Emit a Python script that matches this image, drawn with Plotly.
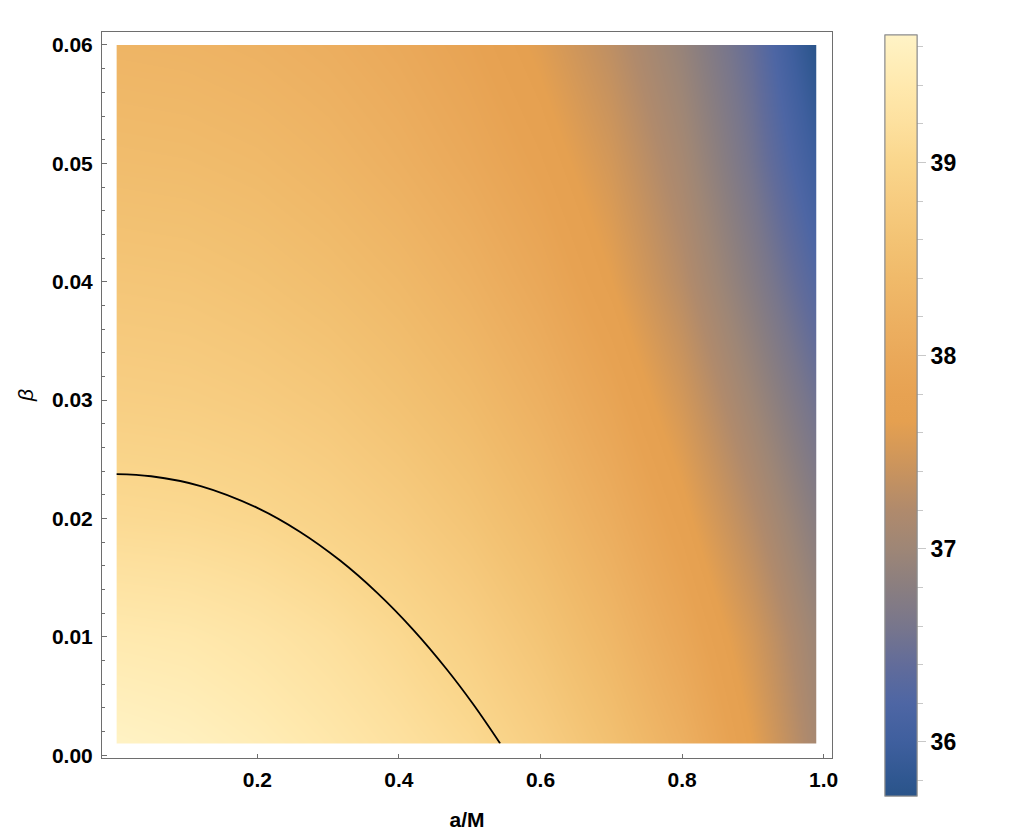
import plotly.graph_objects as go

# ---------------- data ----------------
a_vals = [0.0, 0.1, 0.2, 0.3, 0.4, 0.5, 0.6, 0.7, 0.8, 0.9, 1.0]
beta_vals = [0.0, 0.01, 0.02, 0.03, 0.04, 0.05, 0.06]

T_b000 = [39.67, 39.61, 39.51, 39.38, 39.24, 39.09, 38.86, 38.56, 38.19, 37.67, 37.05]
T_b001 = [39.41, 39.38, 39.30, 39.19, 39.05, 38.87, 38.63, 38.33, 37.95, 37.50, 36.93]
T_b002 = [39.08, 39.06, 39.01, 38.92, 38.80, 38.63, 38.40, 38.10, 37.72, 37.25, 36.72]
T_b003 = [38.85, 38.83, 38.78, 38.70, 38.57, 38.41, 38.18, 37.88, 37.49, 37.00, 36.47]
T_b004 = [38.66, 38.64, 38.58, 38.49, 38.37, 38.20, 37.97, 37.66, 37.26, 36.76, 36.20]
T_b005 = [38.46, 38.44, 38.39, 38.30, 38.17, 38.00, 37.78, 37.49, 37.09, 36.56, 35.92]
T_b006 = [38.28, 38.26, 38.21, 38.13, 38.01, 37.84, 37.61, 37.31, 36.92, 36.42, 35.65]
T_rows = [T_b000, T_b001, T_b002, T_b003, T_b004, T_b005, T_b006]

contour_a = [0.001, 0.05, 0.12, 0.20, 0.26, 0.317, 0.369, 0.42, 0.4675, 0.505, 0.543]
contour_beta = [0.02375, 0.02357, 0.02274, 0.0209, 0.01889, 0.01645, 0.01374, 0.01062, 0.00727, 0.00431, 0.001]

x_tickvals = [0.2, 0.4, 0.6, 0.8, 1.0]
x_ticktext = ["0.2", "0.4", "0.6", "0.8", "1.0"]
cb_major = [36, 37, 38, 39]
cb_minor = [35.8, 36.2, 36.4, 36.6, 36.8, 37.2, 37.4, 37.6, 37.8, 38.2, 38.4, 38.6, 38.8, 39.2, 39.4, 39.6]

c_min, c_max = 35.72, 39.66
stop_vals = [35.72, 35.8, 36.0, 36.2, 36.4, 36.6, 36.8, 37.0, 37.2, 37.4, 37.66,
             37.8, 38.0, 38.2, 38.4, 38.6, 38.8, 39.0, 39.2, 39.4, 39.66]
stop_cols = ["#2A5489", "#2F5790", "#3F5F9E", "#4E66A4", "#626C9A", "#78768C", "#8A7E80",
             "#9E8676", "#B08A6C", "#C8935E", "#E5A050",
             "#E7A252", "#EAA95A", "#EDB162", "#F0BA6A", "#F3C374", "#F7CC80", "#FAD68C",
             "#FDE09E", "#FFE9AE", "#FFF3C6"]
colorscale = [[(v - c_min) / (c_max - c_min), c] for v, c in zip(stop_vals, stop_cols)]

# ---------------- geometry (page pixels; the page body adds an 8px offset) ----------------
OFF = 8
W, H = 1030 - OFF, 840 - OFF
FRAME_L, FRAME_R, FRAME_T, FRAME_B = 102, 832, 32, 761
ML, MT = FRAME_L - OFF, FRAME_T - OFF
MR, MB = W - (FRAME_R - OFF), H - (FRAME_B - OFF)
XR = [-0.01935, 1.01172]
YR = [-0.000227, 0.061095]
DATA_X = [0.001, 0.99]
DATA_Y = [0.001, 0.06]


def dom(lo, hi, r):
    return [(lo - r[0]) / (r[1] - r[0]), (hi - r[0]) / (r[1] - r[0])]


pw = FRAME_R - FRAME_L
ph = FRAME_B - FRAME_T
FONT = "Liberation Sans"
tick_font = dict(family=FONT, size=21, color="black", weight="bold")

cb_common = dict(
    thickness=32, thicknessmode="pixels",
    len=761, lenmode="pixels",
    x=(885.3 - FRAME_L) / pw, xanchor="left", xpad=0,
    y=(FRAME_B - 35) / ph, yanchor="top", ypad=0,
    outlinewidth=1, outlinecolor="#8c8c8c",
    ticks="outside", tickcolor="#c8c8c8", tickwidth=1,
)

fig = go.Figure()

fig.add_trace(go.Heatmap(
    x=a_vals, y=beta_vals, z=T_rows,
    xaxis="x2", yaxis="y2",
    zsmooth="best", colorscale=colorscale, zmin=c_min, zmax=c_max,
    colorbar=dict(cb_common, tickmode="array", tickvals=cb_minor, ticklen=6,
                  showticklabels=False),
    hoverinfo="skip",
))

fig.add_trace(go.Scatter(
    x=contour_a, y=contour_beta, xaxis="x2", yaxis="y2",
    mode="lines", line=dict(color="black", width=1.8, shape="spline", smoothing=1.0),
    showlegend=False, hoverinfo="skip",
))

# invisible trace carrying the labelled colour bar
fig.add_trace(go.Heatmap(
    x=[0.4, 0.5], y=[0.03], z=[[c_min, c_max]],
    xaxis="x", yaxis="y", opacity=0,
    colorscale=colorscale, zmin=c_min, zmax=c_max,
    colorbar=dict(cb_common, tickmode="array", tickvals=cb_major, ticklen=9,
                  tickfont=dict(family=FONT, size=23, color="black", weight="bold")),
    hoverinfo="skip",
))

axis_line = "#6e6e6e"
fig.update_layout(
    width=W, height=H,
    margin=dict(l=ML, r=MR, t=MT, b=MB),
    paper_bgcolor="white", plot_bgcolor="white",
    showlegend=False,
    xaxis=dict(
        domain=[0, 1], range=XR, anchor="y",
        showgrid=False, zeroline=False,
        showline=True, mirror=True, linecolor=axis_line, linewidth=1,
        tickmode="array", tickvals=x_tickvals, ticktext=x_ticktext,
        ticks="inside", ticklen=4, tickcolor=axis_line,
        ticklabelstandoff=3,
        tickfont=tick_font,
        title=dict(text="a/M", font=dict(family=FONT, size=21, color="black", weight="bold"),
                   standoff=22),
    ),
    yaxis=dict(
        domain=[0, 1], range=YR, anchor="x",
        showgrid=False, zeroline=False,
        showline=True, mirror=True, linecolor=axis_line, linewidth=1,
        tickmode="linear", tick0=0, dtick=0.01, tickformat=".2f",
        ticks="inside", ticklen=4.5, tickcolor=axis_line,
        ticklabelstandoff=4,
        minor=dict(dtick=0.002, tick0=0, ticks="inside", ticklen=2.5, tickcolor=axis_line),
        tickfont=tick_font,
        title=dict(text="β", font=dict(family=FONT, size=21, color="black", style="italic"),
                   standoff=12),
    ),
    xaxis2=dict(domain=dom(DATA_X[0], DATA_X[1], XR), range=DATA_X, anchor="y2",
                visible=False, showgrid=False, zeroline=False),
    yaxis2=dict(domain=dom(DATA_Y[0], DATA_Y[1], YR), range=DATA_Y, anchor="x2",
                visible=False, showgrid=False, zeroline=False),
)

fig.write_html("out.html")
